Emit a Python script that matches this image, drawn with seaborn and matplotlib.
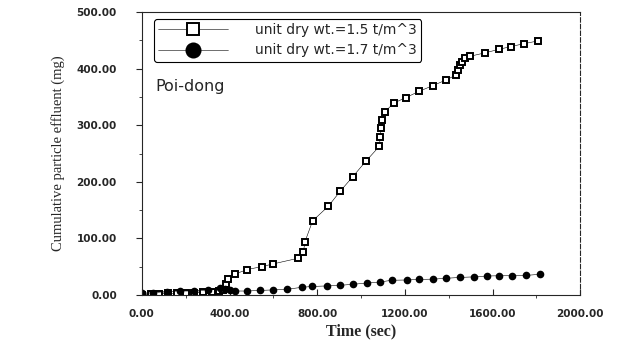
import numpy as np
import pandas as pd
import matplotlib.pyplot as plt
import seaborn as sns
from matplotlib.ticker import MultipleLocator, FormatStrFormatter

# 数据
time_15 = [0, 40, 80, 120, 160, 200, 240, 280, 320, 350, 370, 385, 395, 425, 481, 546, 600,
           714, 737, 744, 779, 851, 904, 962, 1021, 1084, 1087, 1091, 1097, 1110, 1148,
           1205, 1265, 1327, 1388, 1434, 1440, 1449, 1460, 1475, 1498, 1566, 1627, 1683,
           1741, 1807]
eff_15 = [0, 1, 2, 3, 3, 4, 4, 5, 6, 7, 9, 19, 28, 37, 45, 50, 55,
          65, 76, 94, 131, 157, 183, 209, 236, 263, 280, 295, 309, 324, 339,
          349, 360, 370, 380, 389, 398, 406, 412, 418, 422, 428, 434, 439,
          444, 449]

time_17 = [0, 52, 113, 173, 236, 303, 356, 380, 402, 425, 478, 539, 600, 661, 729, 775,
           843, 904, 965, 1026, 1087, 1140, 1209, 1266, 1330, 1388, 1452, 1513, 1574,
           1631, 1689, 1750, 1814]
eff_17 = [3, 4, 6, 7, 7, 9, 12, 10, 9, 7, 7, 8, 9, 10, 13.5, 15,
          16, 17, 19, 21, 23, 26, 26.5, 27.5, 28, 29.5, 31, 32, 33.5,
          34, 34, 34.5, 36.5]

label_15 = 'unit dry wt.=1.5 t/m^3'
label_17 = 'unit dry wt.=1.7 t/m^3'

sns.set_style('ticks')
plt.rcParams['font.family'] = ['DejaVu Sans']

fig = plt.figure(figsize=(6.22, 3.45), dpi=100)
ax = fig.add_axes([0.228, 0.145, 0.705, 0.82])

sns.lineplot(x=time_15, y=eff_15, ax=ax, color='black', linewidth=0.4,
             marker='s', markersize=4, markerfacecolor='white',
             markeredgecolor='black', markeredgewidth=1.4, label=label_15)
sns.lineplot(x=time_17, y=eff_17, ax=ax, color='black', linewidth=0.4,
             marker='o', markersize=5.5, markerfacecolor='black',
             markeredgewidth=0, label=label_17)

ax.set_xlim(0, 2000)
ax.set_ylim(0, 500)
ax.xaxis.set_major_locator(MultipleLocator(400))
ax.xaxis.set_minor_locator(MultipleLocator(200))
ax.yaxis.set_major_locator(MultipleLocator(100))
ax.yaxis.set_minor_locator(MultipleLocator(50))
ax.xaxis.set_major_formatter(FormatStrFormatter('%.2f'))
ax.yaxis.set_major_formatter(FormatStrFormatter('%.2f'))
ax.tick_params(axis='both', which='major', labelsize=7.5, length=4, width=0.8)
ax.tick_params(axis='both', which='minor', length=2, width=0.6)
ax.tick_params(axis='x', direction='in', pad=10)
ax.tick_params(axis='y', direction='out', pad=14)
for lab in ax.get_xticklabels() + ax.get_yticklabels():
    lab.set_fontweight('bold')

ax.spines['right'].set_linestyle((0, (4, 2)))
ax.spines['right'].set_linewidth(0.8)
for s in ['top', 'left', 'bottom']:
    ax.spines[s].set_linewidth(0.8)

ax.set_xlabel('Time (sec)', family='Liberation Serif', fontsize=11.5,
              fontweight='bold', labelpad=3)
ax.set_ylabel('Cumulative particle effluent (mg)', family='Liberation Serif',
              fontsize=10.5, labelpad=8)

ax.text(0.03, 0.72, 'Poi-dong', transform=ax.transAxes, fontsize=11.5)

leg = ax.legend(loc='upper left', bbox_to_anchor=(0.012, 1.0), fontsize=10,
                frameon=True, fancybox=True, edgecolor='black', markerscale=2.1,
                handlelength=5, handletextpad=2.0, borderpad=0.3,
                labelspacing=0.45)
leg.get_frame().set_linewidth(0.8)
leg.get_frame().set_alpha(1)

plt.savefig('out.png', dpi=100)
